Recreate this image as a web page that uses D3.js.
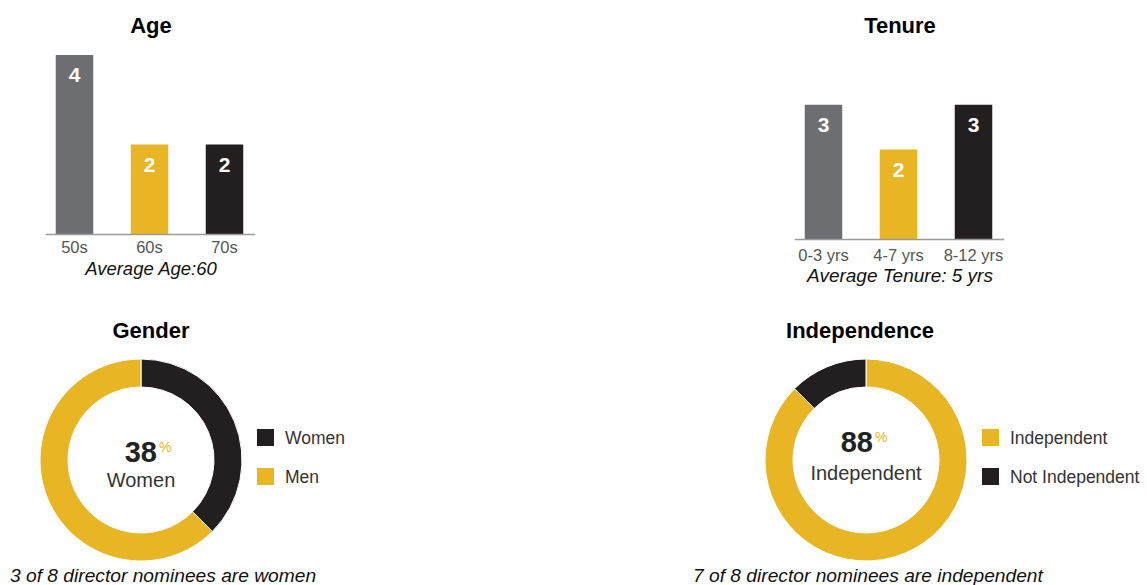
<!DOCTYPE html>
<html>
<head>
<meta charset="utf-8">
<script src="https://cdn.jsdelivr.net/npm/d3@7"></script>
<style>
  body { margin: 0; background: #fff; }
  svg { display: block; font-family: "Liberation Sans", Arial, sans-serif; }
</style>
</head>
<body>
<div id="chart"></div>
<script>
/** Board data. */
const ageCategories = ["50s", "60s", "70s"];
const ageValues = [4, 2, 2];

const tenureCategories = ["0-3 yrs", "4-7 yrs", "8-12 yrs"];
const tenureValues = [3, 2, 3];

const genderCategories = ["Women", "Men"];
const genderValues = [3, 5];

const independenceCategories = ["Independent", "Not Independent"];
const independenceValues = [7, 1];

const GRAY = "#6d6e71";
const YELLOW = "#e8b524";
const BLACK = "#231f20";

const WIDTH = 1147;
const HEIGHT = 585;

let svg = d3.select("#chart").append("svg")
    .attr("width", WIDTH)
    .attr("height", HEIGHT);

// Section titles
const titles = [
    { text: "Age", x: 151, y: 33 },
    { text: "Tenure", x: 900, y: 33 },
    { text: "Gender", x: 151, y: 338 },
    { text: "Independence", x: 860, y: 338 }
];
svg.selectAll("text.title")
    .data(titles)
    .enter()
    .append("text")
    .attr("class", "title")
    .attr("x", d => d.x)
    .attr("y", d => d.y)
    .attr("text-anchor", "middle")
    .attr("font-size", 22)
    .attr("font-weight", "bold")
    .attr("fill", "#000")
    .text(d => d.text);

/** Draw a small bar chart with values written inside the bars. */
function barChart(cats, vals, opts) {
    const x = d3.scaleBand()
        .domain(cats)
        .range([opts.left, opts.left + 225])
        .paddingInner(0.5)
        .paddingOuter(0.25);
    const y = d3.scaleLinear()
        .domain([0, 4])
        .range([opts.base, opts.base - 179]);
    const colors = [GRAY, YELLOW, BLACK];
    const g = svg.append("g");

    g.selectAll("rect")
        .data(vals)
        .enter()
        .append("rect")
        .attr("x", (d, i) => x(cats[i]))
        .attr("y", d => y(d))
        .attr("width", x.bandwidth())
        .attr("height", d => y(0) - y(d))
        .attr("fill", (d, i) => colors[i]);

    g.selectAll("text.val")
        .data(vals)
        .enter()
        .append("text")
        .attr("class", "val")
        .attr("x", (d, i) => x(cats[i]) + x.bandwidth() / 2)
        .attr("y", d => y(d) + 27)
        .attr("text-anchor", "middle")
        .attr("font-size", 21)
        .attr("font-weight", "bold")
        .attr("fill", "#fff")
        .text(d => d);

    // Baseline
    g.append("line")
        .attr("x1", x(cats[0]) - 10)
        .attr("x2", x(cats[cats.length - 1]) + x.bandwidth() + 12)
        .attr("y1", y(0) + 0.5)
        .attr("y2", y(0) + 0.5)
        .attr("stroke", "#9a9a9a")
        .attr("stroke-width", 1.5);

    // Category labels
    g.selectAll("text.cat")
        .data(cats)
        .enter()
        .append("text")
        .attr("class", "cat")
        .attr("x", d => x(d) + x.bandwidth() / 2)
        .attr("y", y(0) + opts.labelGap)
        .attr("text-anchor", "middle")
        .attr("font-size", 16.5)
        .attr("fill", "#555")
        .text(d => d);

    g.append("text")
        .attr("x", opts.left + 114)
        .attr("y", opts.noteY)
        .attr("text-anchor", "middle")
        .attr("font-size", opts.noteSize)
        .attr("font-style", "italic")
        .attr("fill", "#111")
        .text(opts.note);
}

barChart(ageCategories, ageValues,
    { left: 37, base: 234, labelGap: 19, noteY: 275, noteSize: 18.5, note: "Average Age:60" });
barChart(tenureCategories, tenureValues,
    { left: 786, base: 239, labelGap: 22, noteY: 282, noteSize: 19, note: "Average Tenure: 5 yrs" });

/** Draw a donut with a centred percentage and a legend. */
function donut(cats, vals, colors, opts) {
    const pie = d3.pie().sort(null).value(d => d);
    const arc = d3.arc().innerRadius(73).outerRadius(101);
    const g = svg.append("g")
        .attr("transform", `translate(${opts.cx},${opts.cy})`);

    g.selectAll("path")
        .data(pie(vals))
        .enter()
        .append("path")
        .attr("d", arc)
        .attr("fill", (d, i) => colors[i])
        .attr("stroke", "#fff")
        .attr("stroke-width", 1);

    const pct = Math.round(vals[opts.focus] / d3.sum(vals) * 100);
    g.append("text")
        .attr("x", opts.pctX)
        .attr("y", opts.pctY)
        .attr("text-anchor", "end")
        .attr("font-size", 29)
        .attr("font-weight", "bold")
        .attr("fill", "#222")
        .text(pct);
    g.append("text")
        .attr("x", opts.pctX + 2)
        .attr("y", opts.pctY - 10)
        .attr("font-size", 14)
        .attr("fill", YELLOW)
        .text("%");
    g.append("text")
        .attr("x", 0)
        .attr("y", opts.subY)
        .attr("text-anchor", "middle")
        .attr("font-size", 20)
        .attr("fill", "#333")
        .text(opts.sub);

    // Legend
    const legend = svg.append("g")
        .attr("transform", `translate(${opts.lx},429)`);
    const order = opts.legendOrder;
    legend.selectAll("rect")
        .data(order)
        .enter()
        .append("rect")
        .attr("x", 0)
        .attr("y", (d, i) => i * 39)
        .attr("width", 17)
        .attr("height", 17)
        .attr("fill", d => colors[d]);
    legend.selectAll("text")
        .data(order)
        .enter()
        .append("text")
        .attr("x", 28)
        .attr("y", (d, i) => i * 39 + 15)
        .attr("font-size", 17.5)
        .attr("fill", "#333")
        .text(d => cats[d]);

    svg.append("text")
        .attr("x", opts.captionX)
        .attr("y", 582)
        .attr("font-size", 19.2)
        .attr("font-style", "italic")
        .attr("fill", "#111")
        .text(opts.caption);
}

donut(genderCategories, genderValues, [BLACK, YELLOW], {
    cx: 141, cy: 460, focus: 0, pctX: 16, pctY: 2, sub: "Women", subY: 27,
    lx: 257, legendOrder: [0, 1],
    captionX: 10, caption: "3 of 8 director nominees are women"
});
donut(independenceCategories, independenceValues, [YELLOW, BLACK], {
    cx: 866, cy: 460, focus: 0, pctX: 7, pctY: -8, sub: "Independent", subY: 20,
    lx: 982, legendOrder: [0, 1],
    captionX: 693, caption: "7 of 8 director nominees are independent"
});
</script>
</body>
</html>
